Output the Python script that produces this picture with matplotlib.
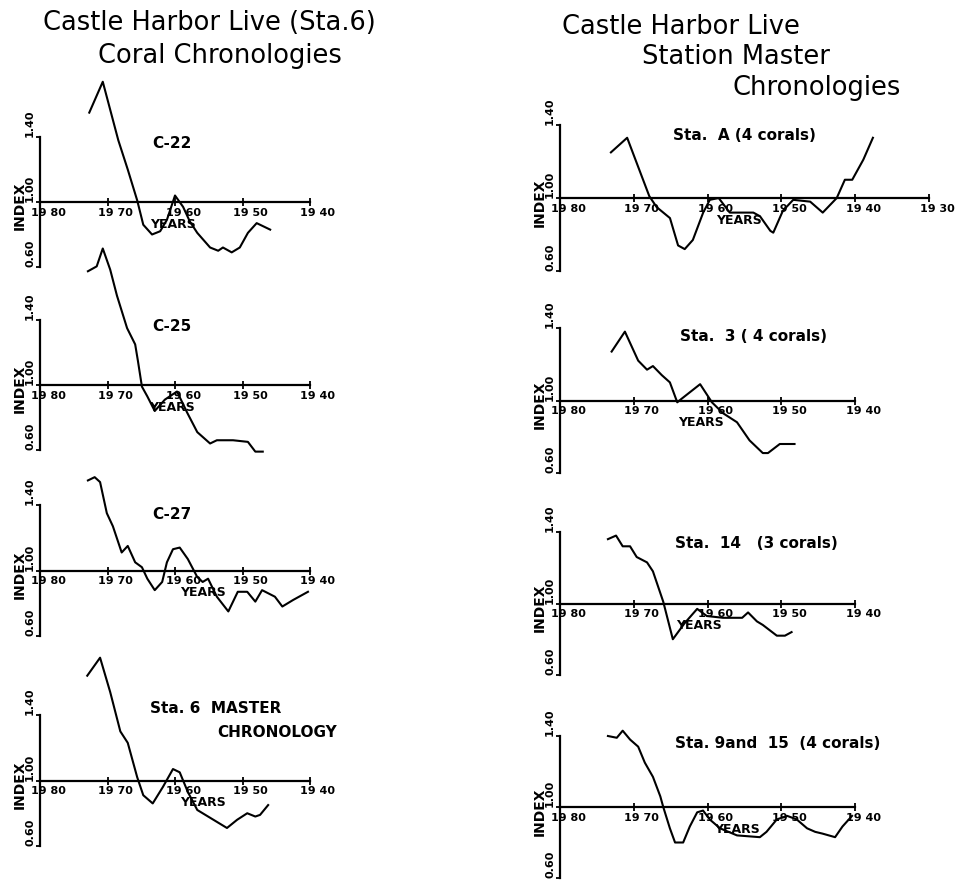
import matplotlib

matplotlib.use("Agg")
import matplotlib.pyplot as plt
import matplotlib.transforms as mtransforms

W, H = 968, 888

# ---- left column: Sta. 6 coral chronologies ----
C22_YEARS = [1972.7, 1970.7, 1968.4, 1967.0, 1965.6, 1964.7, 1963.4, 1962.2, 1961.2, 1960.0,
             1958.8, 1957.8, 1956.7, 1954.8, 1953.6, 1952.9, 1951.6, 1950.4, 1949.2, 1947.9, 1945.9]
C22_INDEX = [1.55, 1.74, 1.38, 1.20, 1.01, 0.86, 0.80, 0.82, 0.89, 1.04,
             0.97, 0.88, 0.81, 0.72, 0.70, 0.72, 0.69, 0.72, 0.81, 0.87, 0.83]

C25_YEARS = [1972.9, 1971.6, 1970.7, 1969.6, 1968.6, 1967.1, 1965.9, 1965.5, 1964.9, 1964.1,
             1963.0, 1961.5, 1959.7, 1958.2, 1956.7, 1954.8, 1953.8, 1951.4, 1949.2, 1948.1, 1947.0]
C25_INDEX = [1.70, 1.73, 1.84, 1.71, 1.55, 1.35, 1.25, 1.15, 0.99, 0.93,
             0.84, 0.91, 0.96, 0.83, 0.71, 0.64, 0.66, 0.66, 0.65, 0.59, 0.59]

C27_YEARS = [1972.9, 1971.9, 1971.1, 1970.1, 1969.2, 1967.9, 1967.0, 1965.9, 1964.9, 1964.1,
             1963.0, 1961.9, 1961.2, 1960.3, 1959.3, 1958.1, 1956.7, 1955.9, 1955.1, 1953.8,
             1952.1, 1950.7, 1949.3, 1948.1, 1947.1, 1945.2, 1944.1, 1942.5, 1940.3]
C27_INDEX = [1.55, 1.57, 1.54, 1.35, 1.27, 1.11, 1.15, 1.05, 1.02, 0.95,
             0.88, 0.93, 1.05, 1.13, 1.14, 1.07, 0.96, 0.93, 0.95, 0.84,
             0.75, 0.87, 0.87, 0.81, 0.88, 0.84, 0.78, 0.82, 0.87]

STA6_YEARS = [1973.0, 1971.1, 1969.6, 1968.1, 1967.0, 1965.6, 1964.7, 1963.3, 1961.8, 1960.3,
              1959.3, 1958.1, 1956.7, 1955.1, 1952.3, 1950.8, 1949.3, 1948.1, 1947.4, 1946.2]
STA6_INDEX = [1.64, 1.75, 1.54, 1.30, 1.23, 1.02, 0.91, 0.86, 0.96, 1.07,
              1.05, 0.93, 0.82, 0.78, 0.71, 0.76, 0.80, 0.78, 0.79, 0.85]

# ---- right column: station master chronologies ----
STAA_YEARS = [1973.1, 1970.9, 1969.4, 1967.9, 1966.9, 1965.1, 1964.0, 1963.1, 1962.0, 1960.6,
              1959.7, 1958.5, 1957.0, 1955.2, 1953.8, 1952.9, 1951.5, 1951.1, 1949.8, 1948.4,
              1946.1, 1944.4, 1942.5, 1941.4, 1940.4, 1938.9, 1937.6]
STAA_INDEX = [1.25, 1.33, 1.17, 1.01, 0.95, 0.89, 0.74, 0.72, 0.77, 0.92,
              0.99, 1.00, 0.92, 0.92, 0.92, 0.90, 0.82, 0.81, 0.93, 0.99,
              0.98, 0.92, 1.00, 1.10, 1.10, 1.21, 1.33]

STA3_YEARS = [1973.0, 1971.2, 1969.4, 1968.2, 1967.4, 1966.2, 1965.1, 1964.1, 1963.5, 1961.0,
              1959.4, 1957.9, 1956.0, 1954.3, 1952.5, 1951.8, 1950.2, 1948.2]
STA3_INDEX = [1.27, 1.38, 1.22, 1.17, 1.19, 1.14, 1.10, 0.99, 1.01, 1.09,
              0.99, 0.93, 0.88, 0.78, 0.71, 0.71, 0.76, 0.76]

STA14_YEARS = [1973.5, 1972.4, 1971.5, 1970.5, 1969.6, 1968.2, 1967.4, 1966.0, 1964.7, 1963.1,
               1961.4, 1960.1, 1957.9, 1955.3, 1954.5, 1953.3, 1952.5, 1950.6, 1949.5, 1948.6]
STA14_INDEX = [1.36, 1.38, 1.32, 1.32, 1.26, 1.23, 1.18, 1.01, 0.80, 0.89,
               0.97, 0.93, 0.92, 0.92, 0.95, 0.90, 0.88, 0.82, 0.82, 0.84]

STA9_YEARS = [1973.5, 1972.3, 1971.5, 1970.5, 1969.4, 1968.5, 1967.4, 1966.4, 1966.0, 1965.1,
              1964.4, 1963.3, 1962.4, 1961.4, 1960.6, 1959.7, 1958.3, 1956.0, 1952.9, 1952.0,
              1950.6, 1949.2, 1947.9, 1946.5, 1945.4, 1944.4, 1942.7, 1941.7, 1940.4]
STA9_INDEX = [1.40, 1.39, 1.43, 1.38, 1.34, 1.25, 1.17, 1.06, 1.00, 0.88,
              0.80, 0.80, 0.89, 0.97, 0.98, 0.93, 0.88, 0.84, 0.83, 0.86,
              0.93, 0.95, 0.93, 0.88, 0.86, 0.85, 0.83, 0.89, 0.95]

DECADES = [1980, 1970, 1960, 1950, 1940, 1930]
DECADE_LABELS = ["19 80", "19 70", "19 60", "19 50", "19 40", "19 30"]
Y_TICKS = [0.6, 1.0, 1.4]
Y_LABELS = ["0.60", "1.00", "1.40"]

FONT = "DejaVu Sans"

# (years, index, panel text lines, pixel box x0, x1, y_top(1.40), y_bottom(0.60), end decade, YEARS label year)
PANELS = [
    (C22_YEARS, C22_INDEX, [("C-22", 1963.4, 1.357)], 40, 310, 137, 267, 1940, 1960.3),
    (C25_YEARS, C25_INDEX, [("C-25", 1963.4, 1.357)], 40, 310, 320, 450, 1940, 1960.5),
    (C27_YEARS, C27_INDEX, [("C-27", 1963.4, 1.345)], 40, 310, 505, 636, 1940, 1955.8),
    (STA6_YEARS, STA6_INDEX, [("Sta. 6  MASTER", 1963.7, 1.437), ("CHRONOLOGY", 1953.8, 1.295)],
     40, 310, 715, 846, 1940, 1955.9),
    (STAA_YEARS, STAA_INDEX, [("Sta.  A (4 corals)", 1964.7, 1.345)], 560, 929, 125, 271, 1930, 1955.7),
    (STA3_YEARS, STA3_INDEX, [("Sta.  3 ( 4 corals)", 1963.7, 1.353)], 560, 855, 328, 473, 1940, 1960.9),
    (STA14_YEARS, STA14_INDEX, [("Sta.  14   (3 corals)", 1964.4, 1.333)], 560, 855, 532, 675, 1940, 1961.2),
    (STA9_YEARS, STA9_INDEX, [("Sta. 9and  15  (4 corals)", 1964.4, 1.355)], 560, 855, 736, 878, 1940, 1956.0),
]


def px_rect(x0, x1, ytop, ybot):
    return [x0 / W, 1 - ybot / H, (x1 - x0) / W, (ybot - ytop) / H]


def draw_panel(fig, years, index, texts, x0, x1, ytop, ybot, end_year, years_at):
    ax = fig.add_axes(px_rect(x0, x1, ytop, ybot))
    ax.patch.set_visible(False)
    ax.set_xlim(1980, end_year)
    ax.set_ylim(0.6, 1.4)
    for side in ("top", "right"):
        ax.spines[side].set_visible(False)
    ax.spines["bottom"].set_position(("data", 1.0))
    ax.spines["left"].set_linewidth(1.6)
    ax.spines["bottom"].set_linewidth(1.6)

    n = DECADES.index(end_year) + 1
    ax.set_xticks(DECADES[:n])
    ax.set_xticklabels(DECADE_LABELS[:n], fontsize=8, fontweight="bold", family=FONT)
    ax.set_yticks(Y_TICKS)
    ax.set_yticklabels(Y_LABELS, rotation=90, va="bottom", fontsize=8, fontweight="bold", family=FONT)
    ax.tick_params(axis="x", direction="inout", length=6, width=1.3, pad=1)
    ax.tick_params(axis="y", direction="out", length=3, width=1.3, pad=0.5)

    shift = mtransforms.ScaledTranslation(8 / 100, 0, fig.dpi_scale_trans)
    for lab in ax.get_xticklabels():
        lab.set_transform(lab.get_transform() + shift)

    ax.set_ylabel("INDEX", fontsize=10, fontweight="bold", family=FONT)
    ax.yaxis.set_label_coords(-13 / (x1 - x0), 0.47)

    ax.annotate("YEARS", xy=(years_at, 1.0), xytext=(0, -22), textcoords="offset pixels",
                ha="center", va="center", fontsize=9, fontweight="bold", family=FONT)

    for text, tx, ty in texts:
        ax.text(tx, ty, text, ha="left", va="center", fontsize=11, fontweight="bold", family=FONT)

    ax.plot(years, index, color="black", lw=1.5, clip_on=False, solid_joinstyle="round")


def main():
    fig = plt.figure(figsize=(W / 100, H / 100), dpi=100)
    fig.patch.set_facecolor("white")

    title_kw = dict(fontsize=18.5, family=FONT, va="center", ha="left")
    fig.text(43 / W, 1 - 23 / H, "Castle Harbor Live (Sta.6)", **title_kw)
    fig.text(98 / W, 1 - 56 / H, "Coral Chronologies", **title_kw)
    fig.text(562 / W, 1 - 27 / H, "Castle Harbor Live", **title_kw)
    fig.text(642 / W, 1 - 57 / H, "Station Master", **title_kw)
    fig.text(733 / W, 1 - 88 / H, "Chronologies", **title_kw)

    for panel in PANELS:
        draw_panel(fig, *panel)

    fig.savefig("out.png", dpi=100)
    plt.close(fig)


if __name__ == "__main__":
    main()
